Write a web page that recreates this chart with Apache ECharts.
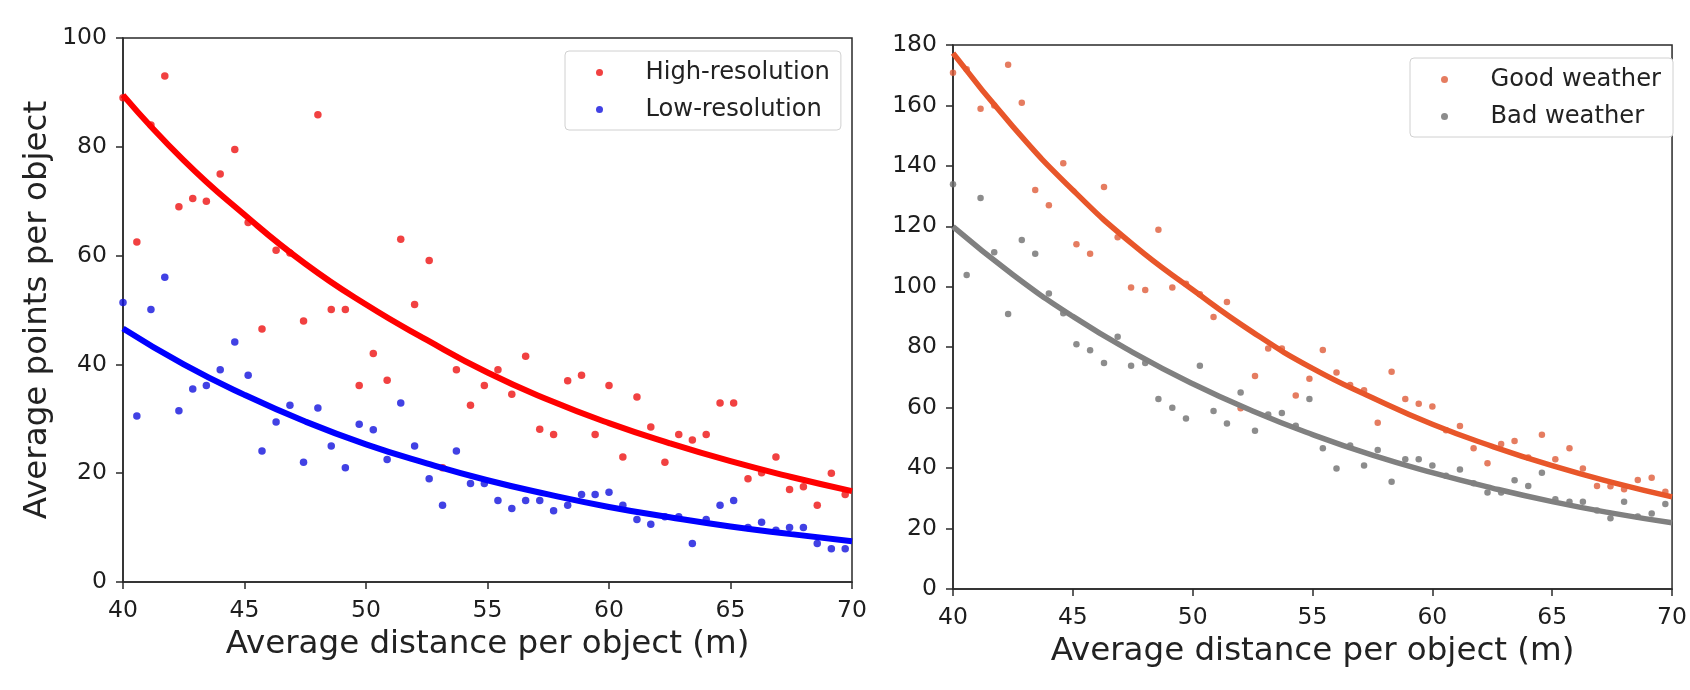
<!DOCTYPE html>
<html>
<head>
<meta charset="utf-8">
<script src="https://cdn.jsdelivr.net/npm/echarts@6/dist/echarts.min.js"></script>
<style>
  html, body { margin: 0; padding: 0; background: #fff; }
  #chart { width: 1690px; height: 690px; }
</style>
</head>
<body>
<div id="chart"></div>
<script>
// distance of each sample (m), shared by both panels
const distance = [40.0, 40.57, 41.15, 41.72, 42.3, 42.87, 43.43, 44.0, 44.6, 45.15, 45.72, 46.3, 46.87,
  47.43, 48.02, 48.57, 49.15, 49.72, 50.3, 50.87, 51.43, 52.0, 52.6, 53.15, 53.72, 54.3, 54.87, 55.43,
  56.0, 56.57, 57.15, 57.72, 58.3, 58.87, 59.43, 60.0, 60.57, 61.15, 61.72, 62.3, 62.87, 63.43, 64.0,
  64.57, 65.13, 65.72, 66.28, 66.87, 67.43, 68.0, 68.57, 69.15, 69.72];

const highRes = [89, 62.5, 84, 93, 69, 70.5, 70, 75, 79.5, 66.1, 46.5, 61, 60.5, 48, 85.9, 50.1, 50.1,
  36.1, 42, 37.1, 63, 51, 59.1, 21, 39, 32.5, 36.1, 39, 34.5, 41.5, 28.1, 27.1, 37, 38, 27.1, 36.1,
  23, 34, 28.5, 22, 27.1, 26.1, 27.1, 32.9, 32.9, 19, 20.1, 23, 17, 17.5, 14.1, 20, 16.1];

const lowRes = [51.4, 30.5, 50.1, 56, 31.5, 35.5, 36.1, 39, 44.1, 38, 24.1, 29.4, 32.5, 22, 32, 25, 21,
  29, 28, 22.5, 32.9, 25, 19, 14.1, 24.1, 18.1, 18.1, 15, 13.5, 15, 15, 13.1, 14.1, 16.1, 16.1, 16.5,
  14.1, 11.5, 10.6, 12, 12, 7.1, 11.5, 14.1, 15, 10, 11, 9.5, 10, 10, 7.1, 6.1, 6.1];

const goodWeather = [170.8, 172, 158.9, 160, 173.5, 160.9, 132, 127, 140.9, 114.1, 110.9, 133, 116.4,
  99.8, 98.9, 118.9, 99.8, 101, 97.5, 90, 95, 59.8, 70.5, 79.6, 79.6, 64, 69.6, 79.1, 71.6, 67.5, 65.8,
  55, 71.9, 62.9, 61.3, 60.4, 52.5, 53.9, 46.6, 41.6, 48, 49, 43.5, 51, 42.9, 46.6, 39.9, 34.1, 34, 33,
  36.1, 36.8, 32.2];

const badWeather = [133.9, 103.9, 129.4, 111.4, 91, 115.5, 110.9, 97.8, 91.2, 81, 79, 74.8, 83.5, 73.9,
  74.8, 62.9, 60, 56.4, 73.9, 58.9, 54.8, 65, 52.4, 57.7, 58.2, 54, 62.9, 46.6, 39.9, 47.5, 40.9, 46,
  35.5, 42.9, 42.9, 40.9, 37.5, 39.5, 35, 31.9, 31.9, 36, 34.1, 38.5, 29.7, 28.9, 28.9, 26, 23.4, 28.9,
  24, 25, 28.1];

// fitted curves
const fitX = [40, 42.5, 45, 47.5, 50, 52.5, 55, 57.5, 60, 62.5, 65, 67.5, 70];
const highFit = [89.5, 77.5, 67.5, 58.5, 51, 44.5, 38.5, 33.5, 29.2, 25.5, 22.2, 19.3, 16.7];
const lowFit = [46.6, 40.0, 34.4, 29.5, 25.3, 21.8, 18.7, 16.1, 13.8, 11.9, 10.2, 8.8, 7.5];
const goodFit = [177.3, 153, 132, 114, 99, 85, 73, 63.3, 54.5, 47.2, 40.8, 35.3, 30.5];
const badFit = [119.9, 104, 90.2, 78.3, 67.9, 58.9, 51.1, 44.3, 38.5, 33.4, 28.9, 25.1, 21.9];

const FONT = 'DejaVu Sans';
const pairs = (xs, ys) => xs.map((x, i) => [x, ys[i]]);

function xAxisOpt(gridIndex, gap) {
  return {
    type: 'value', gridIndex, min: 40, max: 70, interval: 5,
    name: 'Average distance per object (m)', nameLocation: 'middle', nameGap: gap,
    nameTextStyle: { fontFamily: FONT, fontSize: 32.5, color: '#222' },
    axisLine: { onZero: false, lineStyle: { color: '#2a2a2a', width: 1.5 } },
    axisTick: { length: 7, lineStyle: { color: '#2a2a2a', width: 1.5 } },
    axisLabel: { fontFamily: FONT, fontSize: 23.5, color: '#1e1e1e', margin: 17 },
    splitLine: { show: false }
  };
}

function yAxisOpt(gridIndex, max, name) {
  return {
    type: 'value', gridIndex, min: 0, max, interval: 20,
    name, nameLocation: 'middle', nameGap: 69,
    nameTextStyle: { fontFamily: FONT, fontSize: 32.5, color: '#222' },
    axisLine: { onZero: false, lineStyle: { color: '#2a2a2a', width: 1.5 } },
    axisTick: { length: 7, lineStyle: { color: '#2a2a2a', width: 1.5 } },
    axisLabel: { fontFamily: FONT, fontSize: 23.5, color: '#1e1e1e', margin: 16 },
    splitLine: { show: false }
  };
}

function legendOpt(names, left, top, padding) {
  return {
    data: names.map(n => ({ name: n, icon: 'circle' })),
    orient: 'vertical', left, top, padding,
    itemWidth: 30, itemHeight: 7, itemGap: 6,
    backgroundColor: '#fff', borderColor: '#d0d0d0', borderWidth: 1, borderRadius: 4,
    textStyle: { fontFamily: FONT, fontSize: 24.2, color: '#222', lineHeight: 31, padding: [0, 0, 0, 26] }
  };
}

function dots(name, idx, ys, color, size) {
  return {
    name, type: 'scatter', xAxisIndex: idx, yAxisIndex: idx,
    data: pairs(distance, ys), symbolSize: size,
    itemStyle: { color }, z: 2
  };
}

function fit(idx, ys, color, width) {
  return {
    type: 'line', xAxisIndex: idx, yAxisIndex: idx,
    data: pairs(fitX, ys), smooth: true, showSymbol: false,
    lineStyle: { color, width }, z: 3, silent: true
  };
}

const chart = echarts.init(document.getElementById('chart'), null, { renderer: 'canvas' });

chart.setOption({
  animation: false,
  textStyle: { fontFamily: FONT },
  grid: [
    { left: 123, top: 38, width: 729, height: 544, show: true, borderColor: '#2a2a2a', borderWidth: 1.5 },
    { left: 953, top: 45, width: 730, height: 544, show: true, borderColor: '#2a2a2a', borderWidth: 1.5 }
  ],
  xAxis: [xAxisOpt(0, 45), xAxisOpt(1, 46)],
  yAxis: [yAxisOpt(0, 100, 'Average points per object'), yAxisOpt(1, 180, '')],
  legend: [
    legendOpt(['High-resolution', 'Low-resolution'], 565, 51, [6, 11, 5, 31]),
    legendOpt(['Good weather', 'Bad weather'], 1410, 58, [6, 12, 5, 31])
  ],
  series: [
    dots('High-resolution', 0, highRes, '#ee1111', 7.5),
    dots('Low-resolution', 0, lowRes, '#1111dd', 7.5),
    fit(0, highFit, '#ff0000', 6),
    fit(0, lowFit, '#0000ff', 6),
    dots('Good weather', 1, goodWeather, '#df5b38', 6.5),
    dots('Bad weather', 1, badWeather, '#6f6f6f', 6.5),
    fit(1, goodFit, '#e8562a', 5.5),
    fit(1, badFit, '#808080', 5.5)
  ]
});

window.addEventListener('resize', chart.resize);
</script>
</body>
</html>
